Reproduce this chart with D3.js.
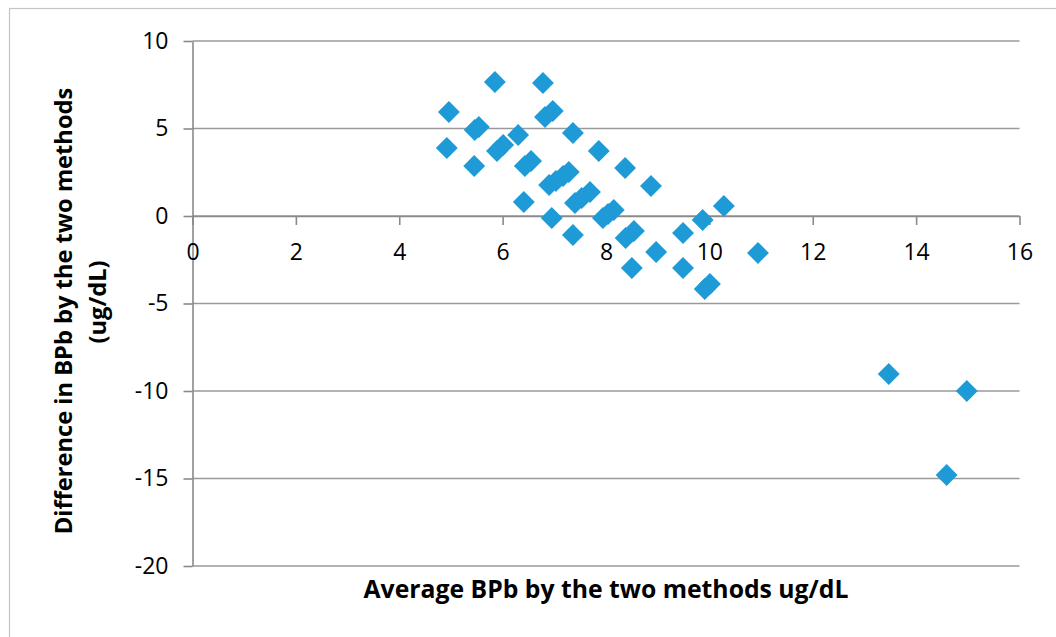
<!DOCTYPE html>
<html>
<head>
<meta charset="utf-8">
<script src="https://cdn.jsdelivr.net/npm/d3@7"></script>
<style>
  html, body { margin: 0; padding: 0; background: #fff; }
  svg { display: block; }
</style>
</head>
<body>
<svg id="chart" width="1056" height="637"></svg>
<script>
// ---- data ----
const averageBPb = [5.85, 6.78, 4.96, 5.46, 5.54, 6.82, 6.97, 6.30, 7.36, 4.92,
                    5.89, 6.01, 5.45, 6.43, 6.55, 7.86, 8.37, 8.87, 6.90, 7.03,
                    7.17, 7.28, 6.41, 7.40, 7.53, 7.69, 6.95, 7.36, 7.94, 8.04,
                    8.15, 8.38, 8.54, 8.97, 8.50, 9.49, 9.49, 9.87, 10.28, 10.01,
                    9.91, 10.94, 13.47, 14.98, 14.59];
const differenceBPb = [7.66, 7.60, 5.94, 4.91, 5.09, 5.66, 6.00, 4.63, 4.74, 3.89,
                       3.71, 4.06, 2.86, 2.86, 3.14, 3.71, 2.74, 1.71, 1.77, 2.00,
                       2.29, 2.51, 0.80, 0.74, 1.03, 1.37, -0.11, -1.09, -0.11, 0.11,
                       0.34, -1.26, -0.86, -2.06, -2.97, -0.97, -2.97, -0.23, 0.57, -3.89,
                       -4.17, -2.11, -9.03, -10.00, -14.80];
const xTicks = [0, 2, 4, 6, 8, 10, 12, 14, 16];
const yTicks = [10, 5, 0, -5, -10, -15, -20];
const xTitle = "Average BPb by the two methods ug/dL";
const yTitleLines = ["Difference in BPb by the two methods", "(ug/dL)"];

const points = averageBPb.map((v, i) => ({ x: v, y: differenceBPb[i] }));

// ---- layout ----
const svg = d3.select("#chart");
const plotLeft = 192.5, plotRight = 1019.5, plotTop = 41, plotBottom = 566;
const x = d3.scaleLinear().domain([0, 16]).range([plotLeft, plotRight]);
const y = d3.scaleLinear().domain([-20, 10]).range([plotBottom, plotTop]);

const FONT = "'Open Sans', 'Liberation Sans', sans-serif";
const gridColor = "#9a9a9a";
const axisColor = "#8a8a8a";
const tickFontSize = 23;

// outer chart border
svg.append("rect")
  .attr("x", 9.5).attr("y", 8.5)
  .attr("width", 1100).attr("height", 700)
  .attr("fill", "none").attr("stroke", "#c4c4c4").attr("stroke-width", 1.2);

// horizontal gridlines
svg.append("g").selectAll("line")
  .data(yTicks)
  .join("line")
  .attr("x1", plotLeft).attr("x2", plotRight)
  .attr("y1", d => y(d)).attr("y2", d => y(d))
  .attr("stroke", gridColor).attr("stroke-width", 1.6);

// y axis
const yAxis = svg.append("g")
  .attr("transform", `translate(${plotLeft},0)`)
  .call(d3.axisLeft(y).tickValues(yTicks).tickSize(9).tickPadding(15).tickSizeOuter(0)
        .tickFormat(d => d < 0 ? "-" + Math.abs(d) : String(d)));
yAxis.attr("font-size", tickFontSize).attr("font-family", FONT);
yAxis.select(".domain").attr("stroke", axisColor).attr("stroke-width", 1.6);
yAxis.selectAll(".tick line").attr("stroke", axisColor).attr("stroke-width", 1.6);
yAxis.selectAll("text")
  .attr("font-family", FONT).attr("font-size", tickFontSize).attr("fill", "#000");

// x axis at y = 0
const xAxis = svg.append("g")
  .attr("transform", `translate(0,${y(0)})`)
  .call(d3.axisBottom(x).tickValues(xTicks).tickSize(9).tickPadding(19).tickSizeOuter(0)
        .tickFormat(d => String(d)));
xAxis.attr("font-size", tickFontSize).attr("font-family", FONT);
xAxis.select(".domain").attr("stroke", axisColor).attr("stroke-width", 1.6);
xAxis.selectAll(".tick line").attr("stroke", axisColor).attr("stroke-width", 1.6);
xAxis.selectAll("text")
  .attr("font-family", FONT).attr("font-size", tickFontSize).attr("fill", "#000");

// markers (diamonds)
const diamond = d3.symbol().type(d3.symbolSquare).size(240);
svg.append("g").selectAll("path")
  .data(points)
  .join("path")
  .attr("d", diamond)
  .attr("transform", d => `translate(${x(d.x)},${y(d.y)}) rotate(45)`)
  .attr("fill", "#1e9bd7");

// helper to fit a bold title to a target width
function fitText(sel, target) {
  let fs = 20;
  sel.attr("font-size", fs);
  const w = sel.node().getComputedTextLength();
  if (w > 0) { fs = fs * target / w; sel.attr("font-size", fs); }
  return fs;
}

// x title
const xt = svg.append("text")
  .attr("x", 606).attr("y", 598)
  .attr("text-anchor", "middle")
  .attr("font-family", FONT).attr("font-weight", "bold").attr("fill", "#000")
  .text(xTitle);
fitText(xt, 485);

// y title (two lines, rotated)
const yt1 = svg.append("text")
  .attr("transform", "translate(72,311) rotate(-90)")
  .attr("text-anchor", "middle")
  .attr("font-family", FONT).attr("font-weight", "bold").attr("fill", "#000")
  .text(yTitleLines[0]);
const fsY = fitText(yt1, 447);
svg.append("text")
  .attr("transform", "translate(106,302) rotate(-90)")
  .attr("text-anchor", "middle")
  .attr("font-family", FONT).attr("font-weight", "bold").attr("fill", "#000")
  .attr("font-size", fsY)
  .text(yTitleLines[1]);
</script>
</body>
</html>
